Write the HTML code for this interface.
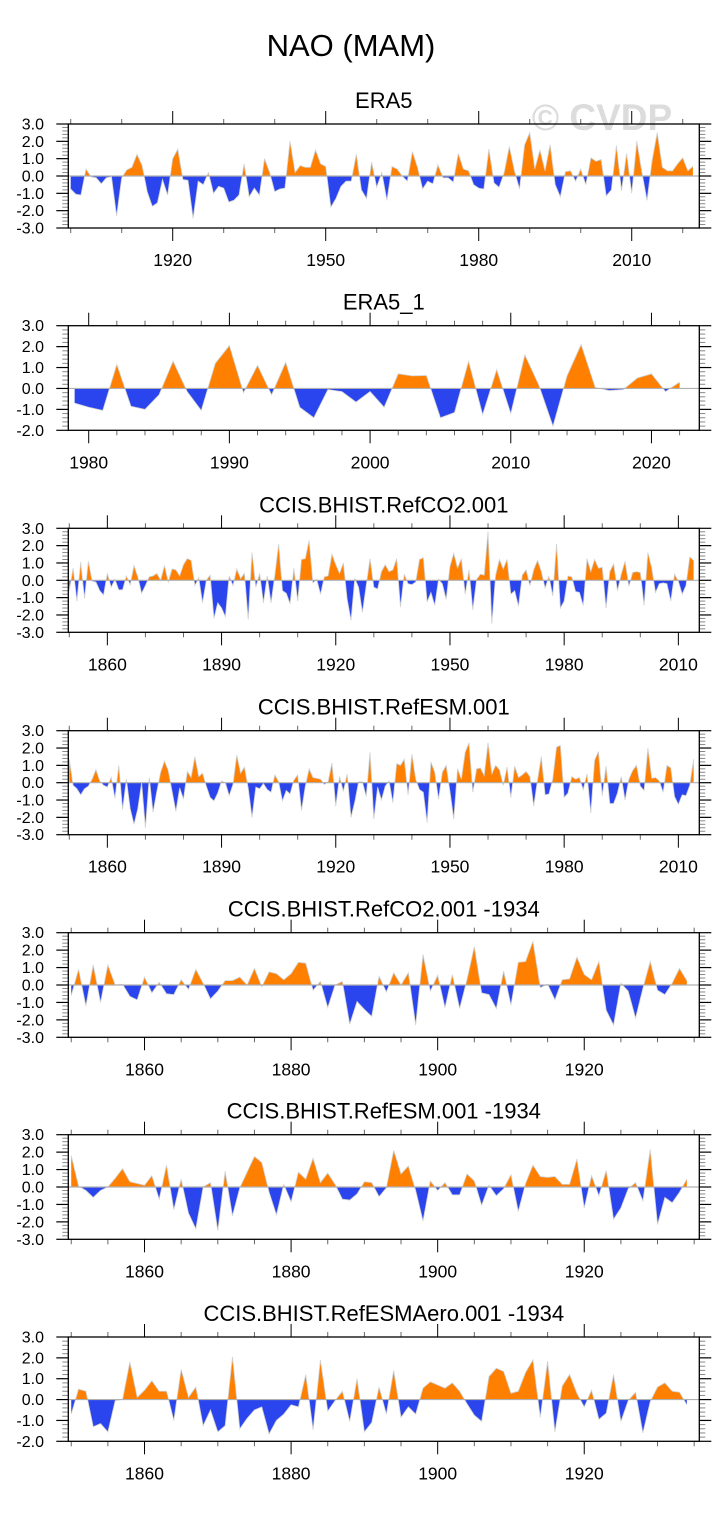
<!DOCTYPE html>
<html><head><meta charset="utf-8">
<style>
html,body{margin:0;padding:0;background:#fff;}
body{width:728px;height:1510px;overflow:hidden;font-family:"Liberation Sans",Arial,sans-serif;}
svg text{font-family:"Liberation Sans",Arial,sans-serif;}
</style></head>
<body>
<svg id="chart" width="728" height="1510" viewBox="0 0 728 1510" xmlns="http://www.w3.org/2000/svg">
<rect x="0" y="0" width="728" height="1510" fill="#fff"/>
<text x="351" y="56" font-size="31" text-anchor="middle" fill="#000">NAO (MAM)</text>
<text x="602" y="130" font-size="37" font-weight="bold" text-anchor="middle" fill="#dcdcdc">© CVDP</text>
</svg>
<script>
// ---- data ----
const era5Start = 1900;
const era5Values = [-0.75,-1.05,-1.1,0.4,-0.05,-0.1,-0.45,-0.1,-0.05,-2.3,-0.1,0.35,0.5,1.25,0.6,-0.9,-1.75,-1.55,-0.2,-1.1,
1.0,1.55,-0.2,-0.25,-2.45,-0.3,-0.5,0.2,-1.0,-0.6,-0.7,-1.5,-1.4,-1.1,0.7,-1.2,-0.7,-1.1,1.0,0.2,
-0.9,-0.75,-0.7,2.0,0.2,0.6,0.5,0.5,1.5,0.7,0.55,-1.8,-1.3,-0.6,-0.3,-0.3,1.25,-0.8,-1.3,0.8,
-0.65,0.2,-1.4,0.55,0.4,0.0,-0.3,1.4,0.5,-0.75,-0.3,-0.45,0.65,-0.1,-0.1,-0.35,1.3,0.4,0.3,-0.5,
-0.7,-0.75,1.55,-0.4,-0.65,0.2,1.7,0.3,-0.75,1.8,2.5,0.4,1.5,0.3,1.8,-0.5,-1.2,0.25,0.3,-0.3,
0.4,-0.5,1.05,0.85,0.95,-1.15,-0.8,1.75,-0.85,1.3,-1.0,2.0,0.2,-1.4,0.9,2.5,0.5,0.3,0.3,0.7,
1.05,0.3,0.55];
const era51Start = 1979;
const era51Values = [-0.7,-0.9,-1.05,1.15,-0.85,-1.0,-0.3,1.3,-0.15,-1.05,1.2,2.05,-0.2,1.1,-0.3,1.25,-0.9,-1.4,-0.05,-0.15,
-0.65,-0.15,-0.9,0.7,0.6,0.62,-1.4,-1.15,1.3,-1.25,0.9,-1.2,1.6,0.15,-1.8,0.6,2.1,0.05,-0.1,-0.05,
0.5,0.7,-0.15,0.3];
const co2Start = 1850;
const co2Values = [-0.6,0.7,-1.2,1.05,-1.05,1.1,-0.05,-0.1,-0.6,-0.85,0.4,-0.4,0.05,-0.55,-0.55,0.25,-0.25,0.85,0.2,-0.75,
-0.3,0.2,0.25,0.4,0.0,0.85,-0.1,0.65,0.6,0.25,0.9,1.25,1.15,-0.3,0.15,-1.3,0.0,0.3,-2.2,-1.3,
-1.6,-2.1,0.25,-0.3,0.65,0.1,0.4,-2.25,1.6,-0.4,0.4,-1.3,0.25,-1.3,0.3,2.1,-0.6,-0.75,-1.35,0.7,
-1.2,1.2,1.25,2.3,-0.15,0.05,-0.8,0.2,0.25,1.5,0.9,0.4,1.0,-1.1,-2.3,0.1,-0.4,-1.85,-0.3,1.25,
-0.4,-0.5,0.5,0.9,0.5,0.6,1.25,-1.55,0.35,-0.2,-0.25,-0.1,1.2,1.3,-1.25,-0.7,-1.45,0.05,-0.2,-1.1,
0.8,1.55,0.7,1.25,-0.8,0.6,-1.7,0.05,0.35,0.3,2.8,-2.5,0.3,1.2,0.65,1.2,-0.8,-0.6,-1.5,0.3,
0.6,-0.3,0.6,1.15,0.5,-0.45,0.25,-0.9,2.1,-1.6,-1.2,0.25,0.2,-0.65,-0.7,-1.45,1.25,0.5,1.2,0.7,
0.75,-1.6,0.5,0.95,-0.6,0.35,1.1,-0.35,0.45,0.5,0.45,-1.45,1.6,0.7,-0.7,-0.2,-0.15,-0.2,-1.2,0.35,
-0.05,-0.8,-0.3,1.35,1.15];
const esmStart = 1850;
const esmValues = [1.35,-0.15,-0.35,-0.7,-0.35,-0.2,0.2,0.75,0.1,-0.15,-0.25,0.3,-0.9,1.0,-1.55,0.2,-1.5,-2.4,-1.5,0.0,
-2.6,0.3,-1.7,-0.5,0.6,1.25,0.7,-0.5,-1.65,-0.3,-0.95,0.65,0.3,1.5,0.35,0.55,-0.2,-0.85,-1.05,-0.6,
0.1,0.0,-0.75,-0.1,1.6,0.55,0.9,-0.3,-2.0,-0.25,-0.35,-0.05,-0.4,-0.55,0.45,0.05,-1.05,-0.45,-0.65,0.15,
0.45,-1.6,-0.2,0.8,0.3,0.25,0.2,-0.1,0.05,1.15,-1.35,0.35,-0.5,0.5,-2.0,-1.1,0.05,0.05,-0.8,1.75,
-2.1,-0.25,-1.0,-0.2,0.1,-1.15,1.1,1.0,1.35,-0.7,1.65,0.2,-0.4,-0.55,-2.3,1.2,0.6,-0.95,0.6,1.0,
-0.5,-2.1,0.8,0.2,1.75,2.3,-0.55,0.8,0.85,0.4,2.3,0.5,1.0,0.75,-0.15,0.9,-0.85,0.95,0.3,0.45,
0.65,0.35,-1.35,0.15,1.5,-0.7,-0.65,0.2,2.05,2.15,-0.85,-0.6,0.35,0.2,0.3,-0.4,0.5,-1.75,1.3,1.8,
-0.75,0.95,-1.2,-1.2,-0.6,0.35,-1.0,0.2,0.7,1.0,-0.2,-0.45,2.0,0.25,0.3,0.1,-0.55,1.0,0.85,-0.8,
-1.25,-0.7,-0.75,-0.15,1.35];
const co2ShortStart = 1850;
const co2ShortValues = [-0.6,0.9,-1.2,1.15,-1.0,1.15,0.0,0.05,-0.65,-0.85,0.45,-0.45,0.15,-0.5,-0.55,0.3,-0.25,0.9,0.1,-0.8,
-0.35,0.25,0.25,0.45,0.0,0.95,-0.1,0.75,0.65,0.3,0.65,1.3,1.25,-0.3,0.2,-1.3,0.0,0.2,-2.25,-0.95,
-1.4,-1.8,0.5,-0.4,0.7,0.0,0.7,-2.3,1.75,-0.35,0.55,-1.3,0.6,-1.35,0.3,2.2,-0.45,-0.55,-1.35,0.8,
-1.15,1.3,1.35,2.5,-0.15,0.05,-0.85,0.3,0.35,1.6,0.6,0.3,1.35,-1.45,-2.3,0.1,-0.35,-1.9,-0.2,1.35,
-0.3,-0.55,0.1,0.95,0.25];
const esmShortStart = 1850;
const esmShortValues = [1.8,0.05,-0.2,-0.6,-0.2,0.0,0.5,1.05,0.3,0.2,0.1,0.65,-0.7,1.25,-1.3,0.45,-1.5,-2.4,0.0,0.25,
-2.5,0.9,-1.65,-0.05,0.85,1.75,1.4,-0.3,-1.6,0.15,-0.85,0.85,0.45,1.65,0.25,0.8,0.15,-0.7,-0.75,-0.4,
0.3,0.25,-0.55,-0.05,2.1,0.75,1.2,-0.2,-1.95,0.35,-0.2,0.25,-0.45,-0.45,0.75,0.35,-1.05,0.1,-0.5,-0.1,
0.7,-1.4,0.2,1.25,0.6,0.55,0.6,0.15,0.15,1.6,-1.2,0.65,-0.5,0.95,-1.85,-1.2,-0.1,0.25,-0.8,2.15,
-2.15,-0.6,-0.9,-0.3,0.45];
const aeroStart = 1850;
const aeroValues = [-0.7,0.5,0.4,-1.3,-1.15,-1.55,-0.05,0.0,1.8,0.1,0.45,0.9,0.4,0.4,-1.0,1.45,0.1,0.6,-1.25,-0.5,
-1.55,-1.25,2.05,-1.4,-0.9,-0.5,-0.35,-1.65,-1.0,-0.7,-0.25,-0.35,1.2,-1.45,1.9,-0.55,-0.05,0.4,-1.05,1.0,
-1.55,-1.1,0.6,-0.7,1.4,-0.85,-0.35,-0.7,0.55,0.85,0.7,0.55,0.8,0.4,-0.2,-0.75,-1.05,1.1,1.5,1.35,
0.3,0.4,1.3,1.9,-0.85,1.85,-1.55,0.65,1.2,0.3,-0.35,0.45,-0.95,-0.65,1.2,-1.05,-0.05,0.35,-1.6,-0.1,
0.6,0.8,0.4,0.35,-0.25];
// axis tick labels
const ticksEra5 = [1920,1950,1980,2010];
const ticksEra51 = [1980,1990,2000,2010,2020];
const ticksLong = [1860,1890,1920,1950,1980,2010];
const ticksShort = [1860,1880,1900,1920];

const panels = [
 {name:'era5', title:'ERA5', top:124, bottom:228, xmin:1899.53, xmax:2023.25, ymin:-3, ymax:3, start:era5Start, vals:era5Values, major:ticksEra5, minorStep:10, minorFrom:1900},
 {name:'era5-1', title:'ERA5_1', top:325.7, bottom:430.3, xmin:1978.55, xmax:2023.4, ymin:-2, ymax:3, start:era51Start, vals:era51Values, major:ticksEra51, minorStep:2, minorFrom:1980},
 {name:'refco2', title:'CCIS.BHIST.RefCO2.001', top:528.3, bottom:632.3, xmin:1849.74, xmax:2015.5, ymin:-3, ymax:3, start:co2Start, vals:co2Values, major:ticksLong, minorStep:10, minorFrom:1850},
 {name:'refesm', title:'CCIS.BHIST.RefESM.001', top:730.7, bottom:834.7, xmin:1849.74, xmax:2015.5, ymin:-3, ymax:3, start:esmStart, vals:esmValues, major:ticksLong, minorStep:10, minorFrom:1850},
 {name:'refco2-1934', title:'CCIS.BHIST.RefCO2.001 -1934', top:932.7, bottom:1037.3, xmin:1849.6, xmax:1935.7, ymin:-3, ymax:3, start:co2ShortStart, vals:co2ShortValues, major:ticksShort, minorStep:5, minorFrom:1850},
 {name:'refesm-1934', title:'CCIS.BHIST.RefESM.001 -1934', top:1134.7, bottom:1239.3, xmin:1849.6, xmax:1935.7, ymin:-3, ymax:3, start:esmShortStart, vals:esmShortValues, major:ticksShort, minorStep:5, minorFrom:1850},
 {name:'refesmaero-1934', title:'CCIS.BHIST.RefESMAero.001 -1934', top:1337, bottom:1441.3, xmin:1849.6, xmax:1935.7, ymin:-2, ymax:3, start:aeroStart, vals:aeroValues, major:ticksShort, minorStep:5, minorFrom:1850}
];

const NS='http://www.w3.org/2000/svg';
const svg=document.getElementById('chart');
const L=68.3, R=699.3;
function mk(tag,attrs,parent){const e=document.createElementNS(NS,tag);for(const k in attrs)e.setAttribute(k,attrs[k]);(parent||svg).appendChild(e);return e;}

panels.forEach((p,pi)=>{
  const g=mk('g',{});
  
  
  const xs=yr=>L+(yr-p.xmin)/(p.xmax-p.xmin)*(R-L);
  const ys=v=>p.bottom-(v-p.ymin)/(p.ymax-p.ymin)*(p.bottom-p.top);
  const y0=ys(0);
  const t=mk('text',{x:(L+R)/2,y:p.top-16,'font-size':22,'text-anchor':'middle',fill:'#000'},g);
  t.textContent=p.title;
  
  
  const cid='c'+pi;
  const cp=mk('clipPath',{id:cid+'p'},g); mk('rect',{x:L,y:p.top,width:R-L,height:y0-p.top},cp);
  const cn=mk('clipPath',{id:cid+'n'},g); mk('rect',{x:L,y:y0,width:R-L,height:p.bottom-y0},cn);
  let d='M'+xs(p.start).toFixed(2)+','+y0.toFixed(2);
  let line='';
  p.vals.forEach((v,i)=>{const X=xs(p.start+i).toFixed(2),Y=ys(v).toFixed(2);d+=' L'+X+','+Y;line+=(i?' L':'M')+X+','+Y;});
  d+=' L'+xs(p.start+p.vals.length-1).toFixed(2)+','+y0.toFixed(2)+' Z';
  const pos=mk('path',{d:d,fill:'#ff8000','clip-path':'url(#'+cid+'p)'},g);
  
  
  const neg=mk('path',{d:d,fill:'#2a45ee','clip-path':'url(#'+cid+'n)'},g);
  
  
  const ln=mk('path',{d:line,fill:'none',stroke:'#d0d0d0','stroke-width':0.8},g);
  
  
  const zl=mk('line',{x1:L,x2:R,y1:y0,y2:y0,stroke:'#b0b0b0','stroke-width':1.2},g);
  
  
  for(let k=Math.round(p.ymin*5);k<=Math.round(p.ymax*5);k++){
    const v=k/5, Y=ys(v), major=(k%5===0);
    const len=major?12:6;
    mk('line',{x1:L-len,x2:L,y1:Y,y2:Y,stroke:major?'#000':'#888','stroke-width':major?1.2:1},g);
    mk('line',{x1:R,x2:R+len,y1:Y,y2:Y,stroke:major?'#000':'#888','stroke-width':major?1.2:1},g);
    if(major){
      const yl=mk('text',{x:44,y:Y+5.5,'font-size':16,'text-anchor':'end',fill:'#000'},g);
      yl.textContent=v.toFixed(1);
      
      
    }
  }
  for(let yr=p.minorFrom; yr<=p.xmax; yr+=p.minorStep){
    if(yr<p.xmin) continue;
    const X=xs(yr), major=p.major.indexOf(yr)>=0;
    const len=major?13:5;
    mk('line',{x1:X,x2:X,y1:p.top-len,y2:p.top,stroke:major?'#000':'#666','stroke-width':1},g);
    mk('line',{x1:X,x2:X,y1:p.bottom,y2:p.bottom+len,stroke:major?'#000':'#666','stroke-width':1},g);
  }
  p.major.forEach(yr=>{
    const xl=mk('text',{x:xs(yr),y:p.bottom+38,'font-size':17.5,'text-anchor':'middle',fill:'#000'},g);
    xl.textContent=String(yr);
    
    
  });
  const box=mk('rect',{x:L,y:p.top,width:R-L,height:p.bottom-p.top,fill:'none',stroke:'#000','stroke-width':1.3},g);
  
  
});
</script>
</body></html>
